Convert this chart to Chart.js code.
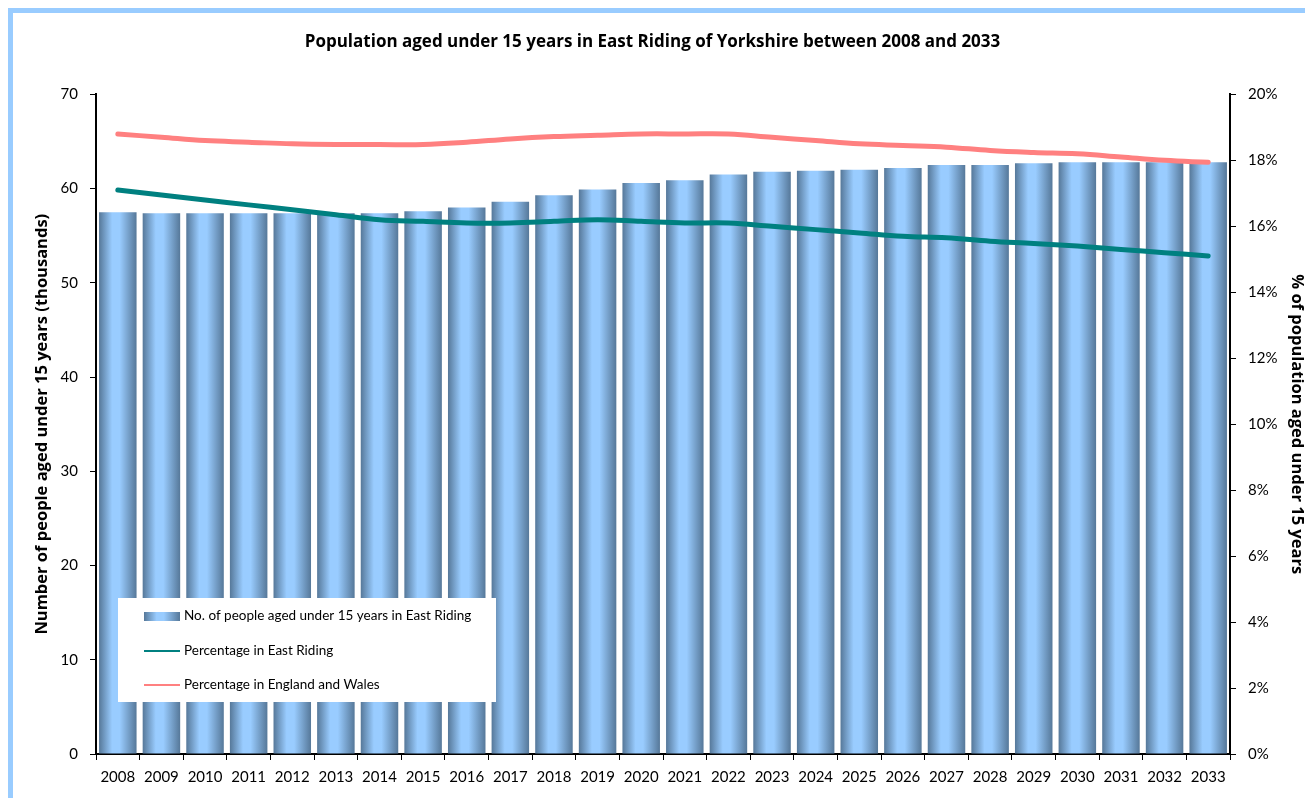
<!DOCTYPE html>
<html>
<head>
<meta charset="utf-8">
<script src="https://cdn.jsdelivr.net/npm/chart.js@4/dist/chart.umd.min.js"></script>
<style>
  html, body { margin: 0; padding: 0; background: #fff; overflow: hidden; }
  #frame { position: absolute; left: 8px; top: 8px; width: 1330px; height: 830px; border: 5px solid #99ccff; }
  #myChart { position: absolute; left: 0; top: 0; }
</style>
</head>
<body>
<div id="frame"></div>
<canvas id="myChart" width="1305" height="798"></canvas>
<script>
// chart values
var years = ['2008','2009','2010','2011','2012','2013','2014','2015','2016','2017','2018','2019','2020',
             '2021','2022','2023','2024','2025','2026','2027','2028','2029','2030','2031','2032','2033']
// thousands of people aged under 15
var peopleUnder15 = [57.5, 57.4, 57.4, 57.4, 57.4, 57.4, 57.4, 57.6, 58.0, 58.6, 59.3, 59.9, 60.6,
                     60.9, 61.5, 61.8, 61.9, 62.0, 62.2, 62.5, 62.5, 62.7, 62.8, 62.8, 62.8, 62.8]
// % of population, East Riding
var pctEastRiding = [17.1, 16.95, 16.8, 16.65, 16.5, 16.35, 16.2, 16.15, 16.1, 16.1, 16.15, 16.2, 16.15,
                     16.1, 16.1, 16.0, 15.9, 15.8, 15.7, 15.65, 15.55, 15.48, 15.4, 15.3, 15.2, 15.1]
// % of population, England and Wales
var pctEngWales = [18.8, 18.7, 18.6, 18.55, 18.5, 18.48, 18.48, 18.48, 18.55, 18.65, 18.72, 18.76, 18.8,
                   18.8, 18.8, 18.7, 18.6, 18.5, 18.45, 18.4, 18.3, 18.24, 18.2, 18.1, 18.0, 17.94]
var leftTicks = [0, 10, 20, 30, 40, 50, 60, 70]
var rightTicks = [0, 2, 4, 6, 8, 10, 12, 14, 16, 18, 20]

var FONT = 'Lato, "Open Sans", sans-serif'
var BOLD_FONT = '"Open Sans", Lato, sans-serif'
var BAR_PCT = 0.86

// horizontal "cylinder" shading for each bar
function gradientStops(g) {
    g.addColorStop(0, '#567899')
    g.addColorStop(0.35, '#99ccff')
    g.addColorStop(0.55, '#99ccff')
    g.addColorStop(1, '#567899')
    return g
}

function barGradient(context) {
    var chart = context.chart
    var xScale = chart.scales.x
    if (!xScale || !chart.chartArea || context.dataIndex === undefined) return '#99ccff'
    var center = xScale.getPixelForValue(context.dataIndex)
    var half = (xScale.width / years.length) * BAR_PCT / 2
    return gradientStops(chart.ctx.createLinearGradient(center - half, 0, center + half, 0))
}

// legend box sitting inside the plot, lower left
var boxLegend = {
    id: 'boxLegend',
    afterDatasetsDraw: function(chart) {
        var ctx = chart.ctx
        var x = 118, y = 598, w = 378, h = 104
        ctx.save()
        ctx.fillStyle = '#ffffff'
        ctx.fillRect(x, y, w, h)
        var rows = [616, 651, 685]
        ctx.font = '13.5px ' + FONT
        ctx.textBaseline = 'middle'
        chart.data.datasets.forEach(function(ds, i) {
            var cy = rows[i]
            if (ds.type === 'bar') {
                ctx.fillStyle = gradientStops(ctx.createLinearGradient(144, 0, 180, 0))
                ctx.fillRect(144, cy - 4, 36, 9)
            } else {
                ctx.strokeStyle = ds.borderColor
                ctx.lineWidth = 2
                ctx.beginPath()
                ctx.moveTo(144, cy)
                ctx.lineTo(180, cy)
                ctx.stroke()
            }
            ctx.fillStyle = '#000'
            ctx.fillText(ds.label, 184, cy)
        })
        ctx.restore()
    }
}

var ctx = document.querySelector('#myChart').getContext('2d')
var myChart = new Chart(ctx, {
    type: 'bar',
    data: {
        labels: years,
        datasets: [{
            type: 'bar',
            label: 'No. of people aged under 15 years in East Riding',
            data: peopleUnder15,
            yAxisID: 'y',
            backgroundColor: barGradient,
            borderWidth: 0,
            categoryPercentage: 1,
            barPercentage: BAR_PCT,
            order: 3
        }, {
            type: 'line',
            label: 'Percentage in East Riding',
            data: pctEastRiding,
            yAxisID: 'y1',
            borderColor: '#008080',
            borderWidth: 5,
            borderCapStyle: 'round',
            pointRadius: 0,
            tension: 0.4,
            order: 2
        }, {
            type: 'line',
            label: 'Percentage in England and Wales',
            data: pctEngWales,
            yAxisID: 'y1',
            borderColor: '#ff8080',
            borderWidth: 5,
            borderCapStyle: 'round',
            pointRadius: 0,
            tension: 0.4,
            order: 1
        }]
    },
    options: {
        responsive: false,
        animation: false,
        devicePixelRatio: 1,
        layout: { padding: 0 },
        plugins: {
            legend: { display: false },
            tooltip: { enabled: false },
            title: {
                display: true,
                text: 'Population aged under 15 years in East Riding of Yorkshire between 2008 and 2033',
                color: '#000',
                font: { family: BOLD_FONT, size: 17, weight: 'bold', lineHeight: 1.2 },
                padding: { top: 32, bottom: 42 }
            }
        },
        scales: {
            x: {
                grid: { display: true, drawOnChartArea: false, drawTicks: true, tickLength: 6, color: '#000', offset: true },
                border: { display: true, color: '#000', width: 2 },
                ticks: { color: '#000', font: { family: FONT, size: 15 }, maxRotation: 0, autoSkip: false, padding: 8 },
                afterFit: function(scale) { scale.height = 44 }
            },
            y: {
                position: 'left',
                min: 0, max: 70,
                afterBuildTicks: function(scale) { scale.ticks = leftTicks.map(function(v) { return { value: v } }) },
                grid: { display: true, drawOnChartArea: false, drawTicks: true, tickLength: 6, color: '#000' },
                border: { display: true, color: '#000', width: 2 },
                ticks: { color: '#000', font: { family: FONT, size: 15 }, padding: 12 },
                title: {
                    display: true,
                    text: 'Number of people aged under 15 years (thousands)',
                    color: '#000',
                    font: { family: BOLD_FONT, size: 16.5, weight: 'bold', lineHeight: 1.2 },
                    padding: { top: 32, bottom: 0 }
                },
                afterFit: function(scale) { scale.width = 96 }
            },
            y1: {
                position: 'right',
                min: 0, max: 20,
                afterBuildTicks: function(scale) { scale.ticks = rightTicks.map(function(v) { return { value: v } }) },
                grid: { display: true, drawOnChartArea: false, drawTicks: true, tickLength: 6, color: '#000' },
                border: { display: true, color: '#000', width: 2 },
                ticks: { color: '#000', font: { family: FONT, size: 15 }, padding: 12, callback: function(v) { return v + '%' } },
                title: {
                    display: true,
                    text: '% of population aged under 15 years',
                    color: '#000',
                    font: { family: BOLD_FONT, size: 16.5, weight: 'bold', lineHeight: 1 },
                    padding: { top: 0, bottom: 0 }
                },
                afterFit: function(scale) { scale.width = 75 }
            }
        }
    },
    plugins: [boxLegend]
})
</script>
</body>
</html>
